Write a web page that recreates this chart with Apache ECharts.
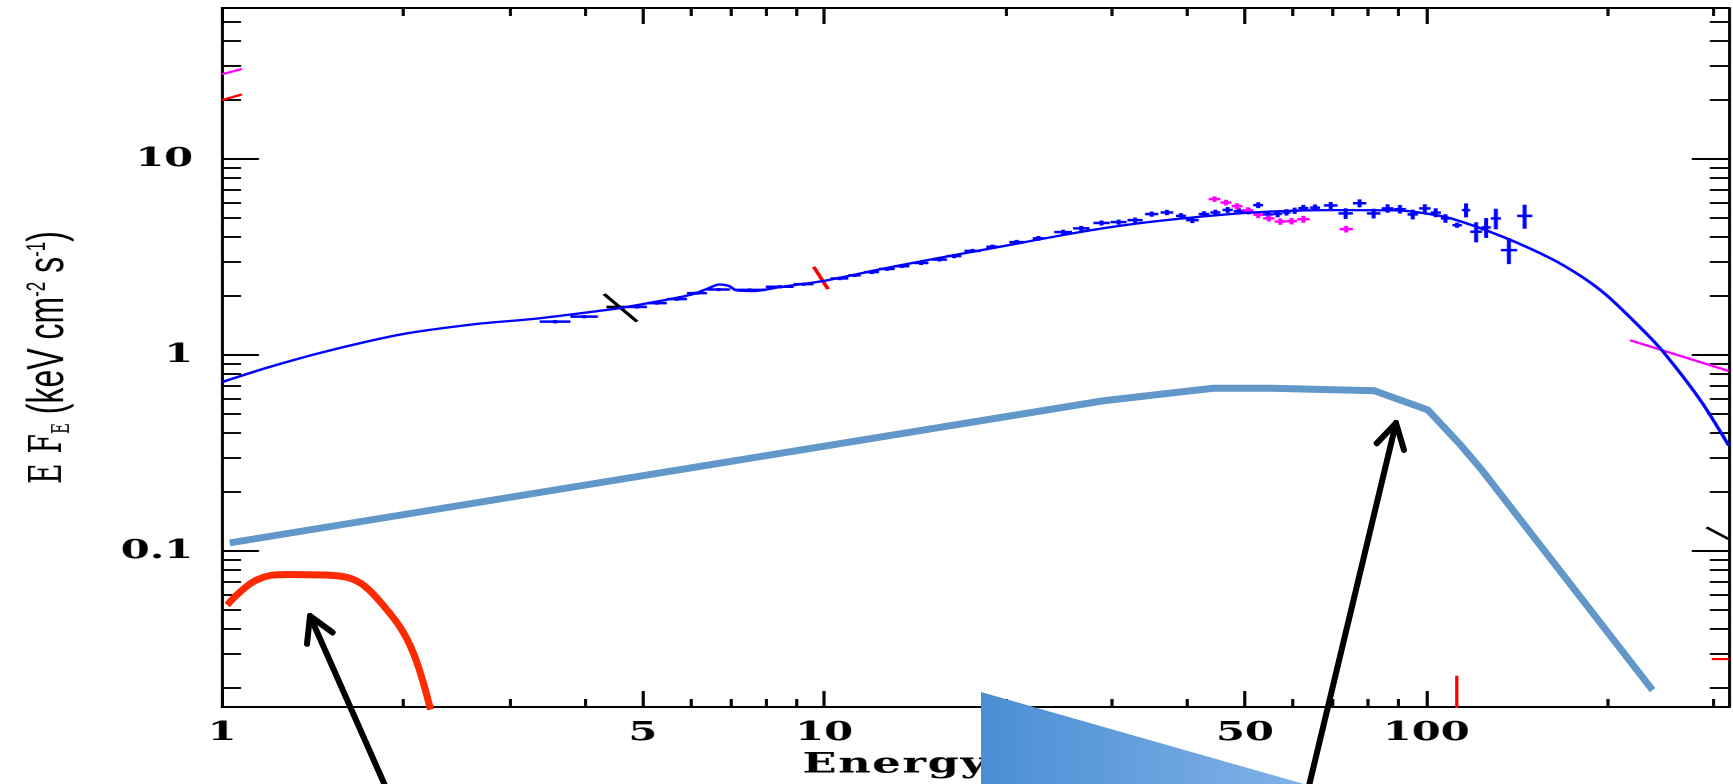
<!DOCTYPE html>
<html>
<head>
<meta charset="utf-8">
<title>EF_E spectrum</title>
<script src="https://cdn.jsdelivr.net/npm/echarts@6.0.0/dist/echarts.min.js"></script>
<style>
    html, body { margin: 0; padding: 0; background: #fff; overflow: hidden; }
    #plot { position: absolute; left: 0; top: 0; height: 784px; transform-origin: 0 0; }
    #notes { position: absolute; left: 0; top: 0; width: 1733px; height: 784px; pointer-events: none; }
</style>
</head>
<body>
<div id="plot"></div>
<div id="notes"></div>
<script>
    "use strict";

    // ------------------------------
    // Axis ranges and ticks
    // ------------------------------
    var xMin = 1, xMax = 318;
    var yMin = 0.016, yMax = 59;
    var xMajor = [1, 5, 10, 50, 100];
    var xMinor = [2, 3, 4, 6, 7, 8, 9, 20, 30, 40, 60, 70, 80, 90, 200, 300];
    var yMajor = [0.1, 1, 10];
    var yMinor = [0.02, 0.03, 0.04, 0.05, 0.06, 0.07, 0.08, 0.09,
        0.2, 0.3, 0.4, 0.5, 0.6, 0.7, 0.8, 0.9,
        2, 3, 4, 5, 6, 7, 8, 9, 20, 30, 40, 50];

    // ------------------------------
    // Model curve (thin blue)
    // ------------------------------
    var modelE = [1.0, 1.2, 1.5, 2.0, 2.7, 3.3, 4.3, 4.6, 5.2, 6.0, 6.4, 6.7, 6.95, 7.15, 7.6, 8.5, 10.0,
        12.4, 15, 19.6, 25, 30, 37, 51, 70, 90, 100, 110, 133, 161, 182, 200, 229, 248, 285, 318];
    var modelF = [0.728, 0.87, 1.05, 1.28, 1.45, 1.53, 1.69, 1.74, 1.86, 2.03, 2.18, 2.29, 2.25, 2.14, 2.12, 2.23, 2.39,
        2.74, 3.07, 3.57, 4.1, 4.5, 4.88, 5.33, 5.49, 5.47, 5.27, 4.98, 4.05, 3.11, 2.49, 2.0, 1.34, 1.03, 0.59, 0.345];

    // ------------------------------
    // Blue data points (energy bin, flux, flux error)
    // ------------------------------
    var blueElo = [3.37, 3.79, 4.70, 5.08, 5.48, 5.92, 6.39, 7.07, 8.00, 8.90, 10.25, 10.97, 11.66, 12.34, 13.07,
        14.10, 15.10, 16.00, 17.10, 18.60, 20.30, 22.20, 24.10, 25.90, 28.00, 29.90, 31.90, 34.10, 36.20, 38.40,
        39.90, 41.90, 43.80, 45.90, 47.90, 49.80, 51.60, 53.60, 55.70, 57.60, 59.60, 61.30, 64.10, 67.60, 71.50,
        75.50, 79.70, 84.30, 88.40, 93.10, 97.30, 101.7, 105.7, 110.5, 114.6, 118.3, 123.5, 128.0, 133.0, 141.5];
    var blueEhi = [3.79, 4.21, 5.08, 5.48, 5.92, 6.39, 6.98, 8.00, 8.90, 9.60, 10.97, 11.50, 12.34, 13.10, 13.85,
        14.90, 16.00, 16.90, 18.20, 19.50, 21.50, 23.20, 25.80, 27.60, 29.80, 31.80, 33.80, 35.90, 38.00, 39.90,
        41.90, 43.60, 45.50, 47.70, 49.80, 51.60, 53.60, 55.70, 57.60, 59.60, 61.30, 63.70, 66.60, 71.20, 75.50,
        79.50, 83.90, 88.20, 92.50, 96.90, 101.7, 105.7, 109.6, 114.6, 118.3, 123.8, 128.0, 133.0, 141.5, 150.0];
    var blueF = [1.48, 1.57, 1.76, 1.84, 1.93, 2.07, 2.16, 2.15, 2.23, 2.30, 2.46, 2.55, 2.65, 2.75, 2.84,
        2.95, 3.07, 3.20, 3.40, 3.57, 3.77, 3.94, 4.24, 4.43, 4.72, 4.77, 4.88, 5.24, 5.34, 5.13,
        4.88, 5.24, 5.34, 5.50, 5.42, 5.42, 5.82, 5.22, 5.25, 5.35, 5.45, 5.62, 5.65, 5.80, 5.28,
        5.95, 5.28, 5.60, 5.55, 5.22, 5.60, 5.33, 4.98, 4.60, 5.49, 4.26, 4.48, 4.98, 3.43, 5.13];
    var blueFerr = [0.03, 0.03, 0.035, 0.035, 0.04, 0.04, 0.04, 0.04, 0.045, 0.045, 0.05, 0.05, 0.06, 0.06, 0.06,
        0.07, 0.07, 0.08, 0.08, 0.09, 0.10, 0.11, 0.12, 0.13, 0.14, 0.14, 0.15, 0.16, 0.17, 0.17,
        0.17, 0.18, 0.18, 0.19, 0.19, 0.2, 0.2, 0.2, 0.2, 0.2, 0.2, 0.22, 0.22, 0.24, 0.33,
        0.28, 0.30, 0.28, 0.28, 0.30, 0.28, 0.28, 0.25, 0.14, 0.45, 0.5, 0.52, 0.6, 0.52, 0.72];

    // ------------------------------
    // Magenta data points
    // ------------------------------
    var magElo = [43.5, 45.5, 47.5, 49.5, 51.6, 53.6, 56.0, 58.5, 61.0, 71.8];
    var magEhi = [45.5, 47.5, 49.5, 51.6, 53.6, 56.0, 58.5, 61.0, 64.0, 75.5];
    var magF = [6.25, 6.0, 5.75, 5.48, 5.2, 4.98, 4.8, 4.82, 4.93, 4.39];
    var magFerr = [0.2, 0.2, 0.2, 0.2, 0.2, 0.18, 0.18, 0.18, 0.2, 0.17];

    // Black data point
    var blackElo = [4.35];
    var blackEhi = [4.70];
    var blackF = [1.76];
    var blackFerr = [0.02];

    // ------------------------------
    // Short slanted segments (other instruments)
    // ------------------------------
    var blackSlopeE = [4.31, 4.89], blackSlopeF = [2.05, 1.48];
    var redSlopeE = [9.61, 10.15], redSlopeF = [2.82, 2.17];
    var magLeftE = [1.0, 1.079], magLeftF = [27.1, 28.8];
    var redLeftE = [1.0, 1.079], redLeftF = [20.0, 21.4];
    var magRightE = [218, 318], magRightF = [1.19, 0.829];
    var blackRightE = [292, 318], blackRightF = [0.132, 0.115];
    var redRightE = [298, 318], redRightF = [0.0281, 0.0281];
    var redLimitE = [112.4, 112.4], redLimitF = [0.0231, 0.0150];

    // ------------------------------
    // Thick annotation curves
    // ------------------------------
    var lightBlueE = [1.03, 29.1, 44.2, 55.3, 81.9, 100.6, 114, 123.6, 237.4];
    var lightBlueF = [0.110, 0.585, 0.676, 0.676, 0.657, 0.524, 0.347, 0.259, 0.0195];
    var redThickE = [1.02, 1.14, 1.29, 1.47, 1.63, 1.73, 1.84, 1.99, 2.10, 2.22];
    var redThickF = [0.053, 0.071, 0.076, 0.0755, 0.0727, 0.0658, 0.0541, 0.0395, 0.0278, 0.0155];

    // the original figure was stretched sideways; draw narrow, then widen
    var STRETCH = 1.6;

    function pairs(xs, ys) {
        return xs.map(function (x, i) { return [x, ys[i]]; });
    }

    function bins(lo, hi, f, err) {
        return lo.map(function (l, i) { return [l, hi[i], f[i], err[i]]; });
    }

    function segment(name, color, xs, ys, width) {
        return {
            name: name,
            type: 'line',
            data: pairs(xs, ys),
            symbol: 'none',
            lineStyle: { color: color, width: width || 2.2 },
            z: 4
        };
    }

    // error bar crosses, via the axes scales
    function crosses(name, color, data) {
        return {
            name: name,
            type: 'custom',
            data: data,
            encode: { x: [0, 1], y: 2 },
            z: 3,
            renderItem: function (params, api) {
                var lo = api.value(0), hi = api.value(1), f = api.value(2), df = api.value(3);
                var mid = Math.sqrt(lo * hi);
                var a = api.coord([lo, f]), b = api.coord([hi, f]);
                var c = api.coord([mid, f + df]), d = api.coord([mid, f - df]);
                var st = { stroke: color, lineWidth: 2.5 };
                return {
                    type: 'group',
                    children: [
                        { type: 'line', shape: { x1: a[0], y1: a[1], x2: b[0], y2: b[1] }, style: st },
                        { type: 'line', shape: { x1: c[0], y1: c[1], x2: d[0], y2: d[1] }, style: st }
                    ]
                };
            }
        };
    }

    // wide letter spacing of the original lettering
    function spaced(text) {
        return text.split('').map(function (ch) { return '{c|' + ch + '}'; }).join('');
    }

    // ------------------------------
    // Axis helper (several axes per side give long and short ticks)
    // ------------------------------
    function logAxis(dim, position, ticks, tickLen, showLine, showLabels) {
        var ax = {
            type: 'log',
            logBase: 10,
            position: position,
            min: dim === 'x' ? xMin : yMin,
            max: dim === 'x' ? xMax : yMax,
            axisLine: { show: showLine, onZero: false, lineStyle: { color: '#000', width: 1.9 } },
            axisTick: { show: true, inside: true, length: tickLen, customValues: ticks,
                lineStyle: { color: '#000', width: 1.9 } },
            axisLabel: { show: false },
            splitLine: { show: false },
            minorTick: { show: false },
            minorSplitLine: { show: false }
        };
        if (showLabels) {
            ax.axisLabel = {
                show: true,
                customValues: ticks,
                margin: dim === 'x' ? 13 : 18,
                color: '#000',
                fontFamily: 'DejaVu Serif',
                fontWeight: 'bold',
                fontSize: 26,
                formatter: function (v) { return String(+Number(v).toPrecision(6)); }
            };
        }
        return ax;
    }

    var xAxes = [
        logAxis('x', 'bottom', xMajor, 16, true, true),
        logAxis('x', 'bottom', xMinor, 8, false, false),
        logAxis('x', 'top', xMajor, 16, true, false),
        logAxis('x', 'top', xMinor, 8, false, false)
    ];
    xAxes[0].name = spaced('Energy (keV)');
    xAxes[0].nameLocation = 'middle';
    xAxes[0].nameGap = 44;
    xAxes[0].nameTextStyle = {
        color: '#000',
        fontFamily: 'DejaVu Serif',
        fontWeight: 'bold',
        fontSize: 28,
        rich: {
            c: { fontFamily: 'DejaVu Serif', fontWeight: 'bold', fontSize: 28, color: '#000', padding: [0, 0.5] }
        }
    };

    var yAxes = [
        logAxis('y', 'left', yMajor, 37 / STRETCH, true, true),
        logAxis('y', 'left', yMinor, 19 / STRETCH, false, false),
        logAxis('y', 'right', yMajor, 37 / STRETCH, true, false),
        logAxis('y', 'right', yMinor, 19 / STRETCH, false, false)
    ];
    yAxes[0].name = '{e|E}{f|F}{sub|E}{sans| (keV cm}{sup|-2}{sans| s}{sup|-1}{sans|)}';
    yAxes[0].nameLocation = 'middle';
    yAxes[0].nameRotate = 90;
    yAxes[0].nameGap = 92;
    yAxes[0].nameTextStyle = {
        color: '#000',
        rich: {
            e: { fontFamily: 'DejaVu Serif', fontSize: 28, color: '#000', padding: [0, 10, 0, 0] },
            f: { fontFamily: 'DejaVu Serif', fontSize: 28, color: '#000' },
            sub: { fontFamily: 'DejaVu Serif', fontSize: 15, color: '#000', verticalAlign: 'bottom' },
            sans: { fontFamily: 'Liberation Sans', fontSize: 32, color: '#000' },
            sup: { fontFamily: 'Liberation Sans', fontSize: 17, color: '#000', verticalAlign: 'top' }
        }
    };

    // ------------------------------
    // Main (stretched) plot
    // ------------------------------
    var plotDom = document.getElementById('plot');
    plotDom.style.width = (1733 / STRETCH) + 'px';
    plotDom.style.transform = 'scaleX(' + STRETCH + ')';

    var spectrumChart = echarts.init(plotDom, null, { renderer: 'canvas', devicePixelRatio: 2 });
    var spectrumChartOption = {
        animation: false,
        backgroundColor: '#fff',
        grid: {
            left: 222 / STRETCH,
            right: 4 / STRETCH,
            top: 8,
            bottom: 77,
            outerBoundsMode: 'none'
        },
        xAxis: xAxes,
        yAxis: yAxes,
        series: [
            {
                name: 'Model',
                type: 'line',
                data: pairs(modelE, modelF),
                smooth: 0.3,
                symbol: 'none',
                lineStyle: { color: '#0000ff', width: 2.3 },
                z: 5
            },
            crosses('Blue data', '#0000ff', bins(blueElo, blueEhi, blueF, blueFerr)),
            crosses('Magenta data', '#ff00ff', bins(magElo, magEhi, magF, magFerr)),
            crosses('Black data', '#000000', bins(blackElo, blackEhi, blackF, blackFerr)),
            segment('Black slope', '#000000', blackSlopeE, blackSlopeF, 2.5),
            segment('Red slope', '#ff0000', redSlopeE, redSlopeF, 2.5),
            segment('Magenta left', '#ff00ff', magLeftE, magLeftF),
            segment('Red left', '#ff0000', redLeftE, redLeftF),
            segment('Magenta right', '#ff00ff', magRightE, magRightF),
            segment('Black right', '#000000', blackRightE, blackRightF),
            segment('Red right', '#ff0000', redRightE, redRightF),
            segment('Red limit', '#ff0000', redLimitE, redLimitF, 2)
        ]
    };
    spectrumChart.setOption(spectrumChartOption);

    // ------------------------------
    // Overlay (not stretched): thick curves, arrows, triangle
    // ------------------------------
    var notesChart = echarts.init(document.getElementById('notes'), null, { renderer: 'canvas' });

    function arrow(tail, tip) {
        var dx = tail[0] - tip[0], dy = tail[1] - tip[1];
        var len = Math.sqrt(dx * dx + dy * dy);
        var ux = dx / len, uy = dy / len;
        var c = Math.cos(Math.PI / 6), s = Math.sin(Math.PI / 6), barb = 28;
        var b1 = [tip[0] + barb * (ux * c - uy * s), tip[1] + barb * (ux * s + uy * c)];
        var b2 = [tip[0] + barb * (ux * c + uy * s), tip[1] + barb * (-ux * s + uy * c)];
        var st = { stroke: '#000', lineWidth: 6, lineCap: 'round', lineJoin: 'round', fill: null };
        return [
            { type: 'polyline', z: 100, shape: { points: [tail, tip] }, style: st },
            { type: 'polyline', z: 100, shape: { points: [b1, tip, b2] }, style: st }
        ];
    }

    var notesChartOption = {
        animation: false,
        grid: { left: 222, right: 4, top: 8, bottom: 77, outerBoundsMode: 'none' },
        xAxis: { type: 'log', min: xMin, max: xMax, show: false },
        yAxis: { type: 'log', min: yMin, max: yMax, show: false },
        series: [
            {
                name: 'Broad component',
                type: 'line',
                data: pairs(lightBlueE, lightBlueF),
                symbol: 'none',
                lineStyle: { color: '#6197c9', width: 7, join: 'miter' }
            },
            {
                name: 'Soft component',
                type: 'line',
                data: pairs(redThickE, redThickF),
                smooth: 0.4,
                symbol: 'none',
                lineStyle: { color: '#ff2a00', width: 7 }
            }
        ],
        graphic: [
            {
                type: 'polygon',
                z: 90,
                shape: { points: [[981, 692], [981, 790], [1325, 790]] },
                style: {
                    fill: new echarts.graphic.LinearGradient(0, 0, 1, 0, [
                        { offset: 0, color: '#4b8ed4' },
                        { offset: 1, color: '#84b4ea' }
                    ])
                }
            }
        ].concat(arrow([387, 790], [310, 616]), arrow([1308, 790], [1396, 423]))
    };
    notesChart.setOption(notesChartOption);
</script>
</body>
</html>
